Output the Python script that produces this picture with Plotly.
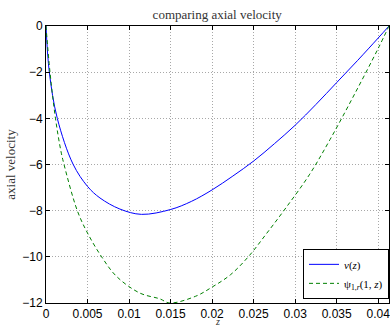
import plotly.graph_objects as go

# axial velocity v(z)
z_v = [0.0, 0.0004, 0.00136, 0.00325, 0.005, 0.0065, 0.0089, 0.0115,
       0.015, 0.0175, 0.02, 0.0225, 0.025, 0.0275, 0.03, 0.0325,
       0.035, 0.0375, 0.04, 0.0413]
v_vals = [0.0, -2.0, -4.0, -5.98, -6.95, -7.45, -7.93, -8.16,
          -7.95, -7.6, -7.1, -6.5, -5.85, -5.1, -4.3, -3.4,
          -2.45, -1.5, -0.52, 0.0]

# radial derivative of the stream function at r = 1
z_psi = [0.0, 0.00048, 0.00114, 0.00177, 0.00217, 0.00377, 0.005, 0.0067,
         0.0085, 0.0113, 0.0137, 0.0149, 0.018, 0.02, 0.0222, 0.0244,
         0.0266, 0.0289, 0.0317, 0.0342, 0.0372, 0.04, 0.0413]
psi_vals = [0.0, -2.0, -4.0, -5.37, -6.0, -8.0, -8.97, -10.0,
            -10.85, -11.57, -11.82, -12.0, -11.71, -11.31, -10.78, -9.98,
            -8.97, -7.87, -6.45, -4.92, -2.92, -0.97, 0.0]

x_ticks = [0, 0.005, 0.01, 0.015, 0.02, 0.025, 0.03, 0.035, 0.04]
x_tick_text = ["0", "0.005", "0.01", "0.015", "0.02", "0.025", "0.03", "0.035", "0.04"]
y_ticks = [0, -2, -4, -6, -8, -10, -12]

serif = "Liberation Serif, DejaVu Serif, serif"
sans = "Liberation Sans, Arial, sans-serif"

fig = go.Figure()
fig.add_trace(go.Scatter(
    x=z_v, y=v_vals, mode="lines", name="<i>v</i>(<i>z</i>)",
    line=dict(color="#0000ff", width=1, shape="spline", smoothing=1.0),
))
fig.add_trace(go.Scatter(
    x=z_psi, y=psi_vals, mode="lines", name="ψ<sub>1,<i>r</i></sub>(1, <i>z</i>)",
    line=dict(color="#008000", width=1, dash="4px,3px", shape="spline", smoothing=1.0),
))

axis_common = dict(
    showline=True, linecolor="black", linewidth=1, mirror="ticks",
    ticks="inside", ticklen=4, tickcolor="black",
    showgrid=True, gridcolor="#a8a8a8", gridwidth=1, griddash="1px,2px",
    zeroline=False, tickfont=dict(family=sans, size=12, color="black"),
    automargin=False, ticklabeloverflow="allow",
)

fig.update_xaxes(range=[0, 0.0413], tickvals=x_ticks, ticktext=x_tick_text, **axis_common)
fig.update_yaxes(
    range=[-12, 0], tickvals=y_ticks,
    title=dict(text="axial velocity", font=dict(family=serif, size=13, color="#333"), standoff=3),
    **axis_common,
)

# axis label for z sits just under the tick labels
fig.add_annotation(
    text="<i>z</i>", x=0.5, y=0, xref="paper", yref="paper",
    xanchor="center", yanchor="middle", yshift=-18, showarrow=False,
    font=dict(family=serif, size=10, color="#333"),
)

fig.update_layout(
    width=390, height=326,
    margin=dict(l=46, r=1, t=26, b=23),
    paper_bgcolor="white", plot_bgcolor="white",
    title=dict(text="comparing axial velocity", x=0.557, xanchor="center", y=0.957, yanchor="middle",
               font=dict(family=serif, size=13, color="#333")),
    showlegend=True,
    legend=dict(x=1, y=0.015, xanchor="right", yanchor="bottom",
                bgcolor="white", bordercolor="black", borderwidth=1,
                font=dict(family=serif, size=11, color="black"),
                itemwidth=30, tracegroupgap=0),
)

fig.write_html("out.html")
